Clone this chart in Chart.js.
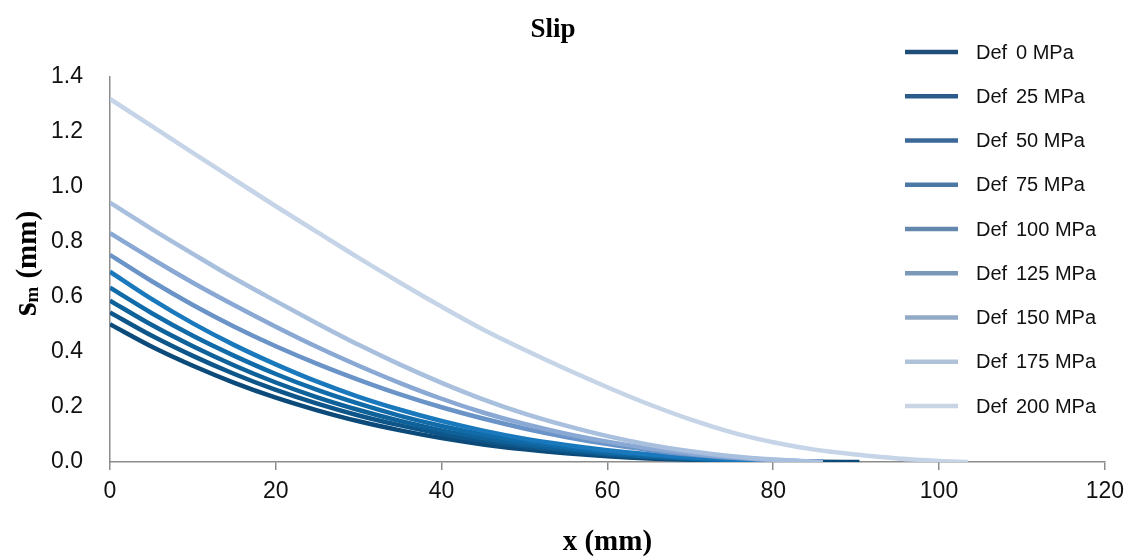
<!DOCTYPE html>
<html>
<head>
<meta charset="utf-8">
<title>Slip</title>
<script src="https://cdn.jsdelivr.net/npm/chart.js@4.4.1/dist/chart.umd.min.js"></script>
<style>
  html, body { margin: 0; padding: 0; background: #ffffff; }
  canvas { display: block; }
</style>
</head>
<body>
<canvas id="slipChart" width="1132" height="558"></canvas>
<script>
// Position along the bond (mm) at which slip values are sampled
const xGrid = [0, 5, 10, 15, 20, 25, 30, 35, 40, 45, 50, 55, 60, 65, 70, 75, 80, 85, 90, 95, 100];

// Deformation pressure of each curve (MPa)
const pressures = [0, 25, 50, 75, 100, 125, 150, 175, 200];

// Position where each curve reaches zero slip (mm); last value of each series sits here
const endX = [90.4, 86, 86, 86, 86, 86, 86, 86, 103.5];

// Slip s_m (mm) on xGrid, followed by the value at endX
const slip0   = [0.501, 0.420, 0.350, 0.288, 0.234, 0.188, 0.148, 0.115, 0.087, 0.064, 0.046, 0.032, 0.021, 0.013, 0.008, 0.004, 0.002, 0.001, 0];
const slip25  = [0.544, 0.460, 0.386, 0.320, 0.262, 0.212, 0.169, 0.133, 0.102, 0.077, 0.056, 0.040, 0.027, 0.017, 0.010, 0.005, 0.002, 0];
const slip50  = [0.587, 0.499, 0.421, 0.351, 0.289, 0.235, 0.189, 0.149, 0.115, 0.087, 0.064, 0.046, 0.031, 0.020, 0.012, 0.006, 0.002, 0];
const slip75  = [0.634, 0.542, 0.459, 0.386, 0.320, 0.262, 0.212, 0.168, 0.131, 0.100, 0.074, 0.053, 0.036, 0.024, 0.014, 0.007, 0.003, 0];
const slip100 = [0.692, 0.593, 0.504, 0.425, 0.355, 0.292, 0.237, 0.190, 0.149, 0.114, 0.085, 0.062, 0.043, 0.028, 0.017, 0.009, 0.004, 0];
const slip125 = [0.753, 0.658, 0.571, 0.492, 0.421, 0.357, 0.299, 0.246, 0.199, 0.158, 0.122, 0.091, 0.065, 0.044, 0.027, 0.015, 0.006, 0];
const slip150 = [0.832, 0.740, 0.652, 0.570, 0.492, 0.418, 0.350, 0.287, 0.230, 0.180, 0.138, 0.103, 0.074, 0.050, 0.031, 0.017, 0.007, 0];
const slip175 = [0.943, 0.848, 0.757, 0.668, 0.585, 0.504, 0.426, 0.354, 0.288, 0.228, 0.176, 0.132, 0.094, 0.063, 0.039, 0.021, 0.009, 0];
const slip200 = [1.320, 1.222, 1.124, 1.027, 0.930, 0.836, 0.742, 0.652, 0.565, 0.482, 0.408, 0.338, 0.272, 0.210, 0.155, 0.108, 0.072, 0.045, 0.027, 0.013, 0.004, 0];

const slipSeries = [slip0, slip25, slip50, slip75, slip100, slip125, slip150, slip175, slip200];

// Axis tick values
const xTicks = [0, 20, 40, 60, 80, 100, 120];
const yTicks = [0, 0.2, 0.4, 0.6, 0.8, 1.0, 1.2, 1.4];

// Styling
const lineColors   = ['#0c4a7a', '#0e5689', '#0f6199', '#126ba9', '#1a78bc', '#6a93c8', '#8aa8d4', '#a9bfde', '#c6d4e8'];
const legendColors = ['#1f4e79', '#2a5b8a', '#3a6898', '#4b78a4', '#6487ae', '#7b98b9', '#93aac6', '#b0c2d8', '#c9d5e4'];
const sansFont  = '"Liberation Sans", Arial, sans-serif';
const serifFont = '"Liberation Serif", "Times New Roman", serif';

function toPoints(values, end) {
  return values.map((v, j) => ({ x: j < values.length - 1 ? xGrid[j] : end, y: v }));
}

const datasets = slipSeries.map((vals, i) => ({
  label: 'Def ' + pressures[i] + ' MPa',
  data: toPoints(vals, endX[i]),
  borderColor: lineColors[i],
  backgroundColor: lineColors[i],
  borderWidth: 4.5,
  pointRadius: 0,
  pointHoverRadius: 0,
  cubicInterpolationMode: 'monotone',
  fill: false,
  order: pressures.length - 1 - i   // higher pressure curves sit on top
}));

// Legend drawn over the right part of the plot area
const sideLegend = {
  id: 'sideLegend',
  afterDraw(chart) {
    const ctx = chart.ctx;
    ctx.save();
    ctx.textBaseline = 'middle';
    ctx.textAlign = 'left';
    ctx.fillStyle = '#111111';
    ctx.font = '20px ' + sansFont;
    pressures.forEach((p, i) => {
      const y = 52 + i * 44.25;
      ctx.strokeStyle = legendColors[i];
      ctx.lineWidth = 4.5;
      ctx.beginPath();
      ctx.moveTo(905, y);
      ctx.lineTo(958, y);
      ctx.stroke();
      ctx.fillText('Def', 976, y + 1);
      ctx.fillText(p + ' MPa', 1016, y + 1);
    });
    ctx.restore();
  }
};

// Rotated y-axis title with subscript: s_m (mm)
const yTitle = {
  id: 'yTitle',
  afterDraw(chart) {
    const ctx = chart.ctx;
    ctx.save();
    ctx.translate(36, 316);
    ctx.rotate(-Math.PI / 2);
    ctx.fillStyle = '#000000';
    ctx.textBaseline = 'alphabetic';
    ctx.textAlign = 'left';
    let x = 0;
    ctx.font = 'bold 35px ' + serifFont;
    ctx.fillText('s', x, 0);
    x += ctx.measureText('s').width;
    ctx.font = 'bold 19px ' + serifFont;
    ctx.fillText('m', x, 2);
    x += ctx.measureText('m').width + 8;
    ctx.font = 'bold 29px ' + serifFont;
    ctx.fillText('(mm)', x, 0);
    ctx.restore();
  }
};

new Chart(document.getElementById('slipChart'), {
  type: 'line',
  data: { datasets },
  options: {
    responsive: false,
    animation: false,
    devicePixelRatio: 1,
    layout: { padding: { left: 0, right: 26, top: 0, bottom: 0 } },
    plugins: {
      legend: { display: false },
      tooltip: { enabled: false },
      title: {
        display: true,
        text: 'Slip',
        color: '#000000',
        font: { family: serifFont, size: 27, weight: 'bold', lineHeight: 1.2 },
        padding: { top: 14, bottom: 30.6 }
      }
    },
    scales: {
      x: {
        type: 'linear',
        min: xTicks[0],
        max: xTicks[xTicks.length - 1],
        afterBuildTicks(scale) { scale.ticks = xTicks.map(v => ({ value: v })); },
        afterFit(scale) { scale.height = 96; },
        ticks: {
          color: '#111111',
          font: { family: sansFont, size: 23 },
          padding: 8,
          maxRotation: 0,
          callback: v => String(v)
        },
        grid: { drawOnChartArea: false, drawTicks: true, tickLength: 8, color: '#8c8c8c', lineWidth: 1.5 },
        border: { color: '#8c8c8c', width: 1.5 },
        title: {
          display: true,
          text: 'x (mm)',
          color: '#000000',
          font: { family: serifFont, size: 29, weight: 'bold', lineHeight: 1 },
          padding: { top: 0, bottom: 1 }
        }
      },
      y: {
        type: 'linear',
        min: yTicks[0],
        max: yTicks[yTicks.length - 1],
        afterBuildTicks(scale) { scale.ticks = yTicks.map(v => ({ value: v })); },
        afterFit(scale) { scale.width = 110; },
        ticks: {
          color: '#111111',
          font: { family: sansFont, size: 23 },
          padding: 27,
          callback: v => Number(v).toFixed(1)
        },
        grid: { drawOnChartArea: false, drawTicks: false },
        border: { color: '#8c8c8c', width: 1.5 }
      }
    }
  },
  plugins: [sideLegend, yTitle]
});
</script>
</body>
</html>
